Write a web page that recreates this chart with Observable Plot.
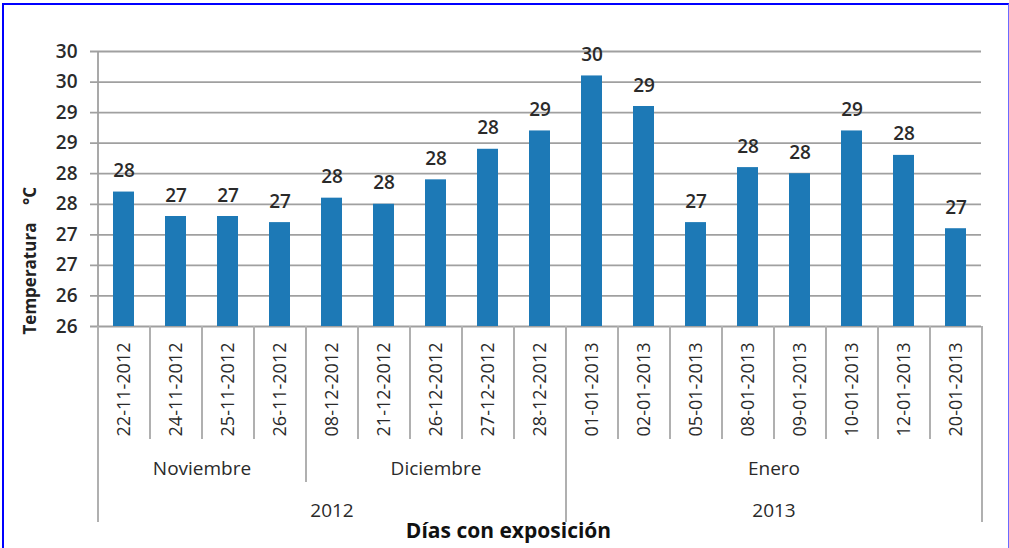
<!DOCTYPE html>
<html>
<head>
<meta charset="utf-8">
<script src="https://cdn.jsdelivr.net/npm/d3@7"></script>
<script src="https://cdn.jsdelivr.net/npm/@observablehq/plot@0.6"></script>
<style>
  html, body { margin: 0; padding: 0; background: #fff; }
  #wrap { position: relative; width: 1009px; height: 548px; overflow: hidden; }
  #border { position: absolute; left: 2px; top: 3px; width: 1004px; height: 600px;
            border-left: 2px solid #0000ff; border-top: 2px solid #0000ff; border-right: 1px solid #6b6bff;
            pointer-events: none; }
</style>
</head>
<body>
<div id="wrap"><div id="border"></div></div>
<script>
const dates = ["22-11-2012","24-11-2012","25-11-2012","26-11-2012","08-12-2012","21-12-2012","26-12-2012","27-12-2012","28-12-2012",
               "01-01-2013","02-01-2013","05-01-2013","08-01-2013","09-01-2013","10-01-2013","12-01-2013","20-01-2013"];
const temps = [27.7, 27.3, 27.3, 27.2, 27.6, 27.5, 27.9, 28.4, 28.7, 29.6, 29.1, 27.2, 28.1, 28.0, 28.7, 28.3, 27.1];
const months = ["Noviembre", "Diciembre", "Enero"];
const monthCounts = [4, 5, 8];
const years = ["2012", "2013"];
const yearCounts = [9, 8];
const yTicks = [25.5, 26, 26.5, 27, 27.5, 28, 28.5, 29, 29.5, 30];
const yTickLabels = ["26", "26", "27", "27", "28", "28", "29", "29", "30", "30"];
const xTitle = "Días con exposición";
const yTitle = "Temperatura\u00a0\u00a0\u00a0\u00a0°C";

const data = dates.map((d, i) => ({date: d, temp: temps[i]}));

const W = 1009, H = 548, mL = 97, mR = 28, mT = 51, mB = 222;
const plotW = W - mL - mR, plotH = H - mT - mB;
const step = plotW / dates.length;
const gridColor = "#a0a0a0";
const sepColor = "#b0b0b0";
const textColor = "#2a2a2a";

function groups(labels, counts) {
  let start = 0;
  return labels.map((l, i) => { const g = {label: l, start, count: counts[i]}; start += counts[i]; return g; });
}
const monthGroups = groups(months, monthCounts);
const yearGroups = groups(years, yearCounts);

const firstOfMonth = new Set(monthGroups.map(g => dates[g.start]));
const firstOfYear = new Set(yearGroups.map(g => dates[g.start]));
const innerSeps = dates.filter(d => !firstOfMonth.has(d));
const monthSeps = dates.filter(d => firstOfMonth.has(d) && !firstOfYear.has(d));
const yearSeps = dates.filter(d => firstOfYear.has(d));

const groupText = (g, dy) => Plot.text([g.label], {
  x: () => dates[g.start], frameAnchor: "bottom", dx: (g.count - 1) * step / 2, dy,
  text: d => d, fontSize: 19, fill: textColor, lineAnchor: "middle"
});

const chart = Plot.plot({
  width: W, height: H,
  marginLeft: mL, marginRight: mR, marginTop: mT, marginBottom: mB,
  style: {fontFamily: "'Open Sans', sans-serif", fontSize: "18px", color: textColor, background: "transparent"},
  x: {domain: dates, paddingInner: 0.6, paddingOuter: 0.3, axis: null},
  y: {domain: [25.5, 30], axis: null},
  marks: [
    Plot.ruleY(yTicks, {stroke: gridColor, strokeWidth: 1.8, insetLeft: -7}),
    Plot.ruleX([dates[0]], {dx: -step / 2, stroke: gridColor, strokeWidth: 1.8}),
    Plot.barY(data, {x: "date", y1: 25.5, y2: "temp", fill: "#1d79b6"}),
    Plot.text(data, {x: "date", y: "temp", text: d => String(Math.round(d.temp)), dy: -21,
                     fontSize: 19, fontWeight: 600, fill: textColor}),
    Plot.axisY({ticks: yTicks, tickFormat: (d) => yTickLabels[yTicks.indexOf(d)], tickSize: 0, tickPadding: 20,
                label: null, fontSize: 19, fontWeight: 600, fill: textColor}),
    Plot.axisX({tickRotate: -90, tickSize: 0, tickPadding: 16, label: null, fontSize: 18, fill: textColor}),
    Plot.ruleX(innerSeps, {dx: -step / 2, insetTop: plotH, insetBottom: -113, stroke: sepColor, strokeWidth: 2}),
    Plot.ruleX(monthSeps, {dx: -step / 2, insetTop: plotH, insetBottom: -156, stroke: sepColor, strokeWidth: 2}),
    Plot.ruleX(yearSeps, {dx: -step / 2, insetTop: plotH, insetBottom: -196, stroke: sepColor, strokeWidth: 2}),
    Plot.ruleX([dates[dates.length - 1]], {dx: step / 2, insetTop: plotH, insetBottom: -196, stroke: sepColor, strokeWidth: 2}),
    ...monthGroups.map(g => groupText(g, 142)),
    ...yearGroups.map(g => groupText(g, 184)),
    Plot.text([xTitle], {frameAnchor: "bottom", dx: -31, dy: 211, fontSize: 21, fontWeight: "bold", fill: "#111"}),
    Plot.text([yTitle], {frameAnchor: "bottom-left", textAnchor: "start", dx: -62, dy: 8, rotate: -90,
                         fontSize: 17, fontWeight: "bold", fill: "#222"})
  ]
});
chart.style.position = "absolute";
chart.style.left = "0px";
chart.style.top = "0px";
document.getElementById("wrap").prepend(chart);
</script>
</body>
</html>
